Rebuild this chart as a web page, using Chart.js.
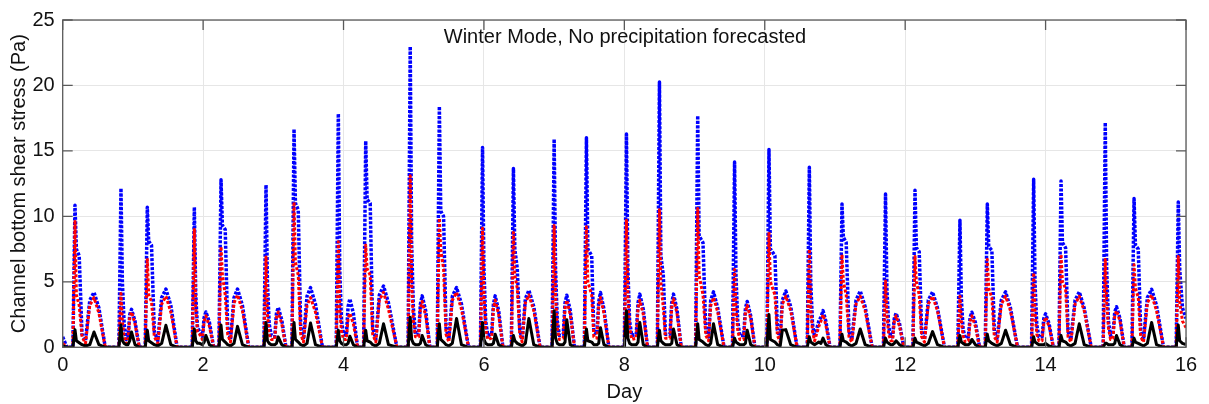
<!DOCTYPE html>
<html>
<head>
<meta charset="utf-8">
<script src="https://cdn.jsdelivr.net/npm/chart.js@4.4.1/dist/chart.umd.min.js"></script>
<style>
  html, body { margin: 0; padding: 0; background: #fff; }
  #stressChart { display: block; }
</style>
</head>
<body>
<canvas id="stressChart" width="1209" height="404"></canvas>
<script>
// time in days, one row per tidal cycle (spike, shoulder, hump)
const days = [
  0, 0.06,
  0.145, 0.175, 0.195, 0.235, 0.275, 0.325, 0.386, 0.446, 0.516, 0.606,
  0.80, 0.83, 0.85, 0.875, 0.905, 0.93, 0.955, 0.98, 1.03, 1.09,
  1.175, 1.205, 1.225, 1.265, 1.305, 1.355, 1.41, 1.47, 1.54, 1.63,
  1.845, 1.875, 1.895, 1.92, 1.95, 1.99, 2.015, 2.04, 2.09, 2.15,
  2.225, 2.255, 2.275, 2.315, 2.35, 2.39, 2.44, 2.49, 2.56, 2.65,
  2.866, 2.896, 2.916, 2.941, 2.971, 3.02, 3.045, 3.07, 3.12, 3.18,
  3.265, 3.295, 3.315, 3.355, 3.39, 3.43, 3.48, 3.53, 3.6, 3.7,
  3.896, 3.926, 3.946, 3.971, 4.001, 4.04, 4.065, 4.09, 4.14, 4.2,
  4.286, 4.316, 4.336, 4.38, 4.415, 4.46, 4.51, 4.57, 4.64, 4.76,
  4.92, 4.95, 4.97, 4.995, 5.025, 5.07, 5.095, 5.12, 5.17, 5.23,
  5.335, 5.365, 5.385, 5.425, 5.46, 5.5, 5.55, 5.61, 5.68, 5.78,
  5.95, 5.98, 6.0, 6.025, 6.055, 6.11, 6.135, 6.16, 6.21, 6.27,
  6.39, 6.42, 6.44, 6.475, 6.51, 6.545, 6.59, 6.64, 6.71, 6.8,
  6.97, 7.0, 7.02, 7.045, 7.075, 7.13, 7.155, 7.18, 7.23, 7.29,
  7.43, 7.46, 7.48, 7.535, 7.565, 7.61, 7.635, 7.66, 7.71, 7.78,
  8.0, 8.03, 8.05, 8.075, 8.105, 8.17, 8.195, 8.22, 8.27, 8.33,
  8.47, 8.5, 8.52, 8.555, 8.585, 8.65, 8.675, 8.7, 8.75, 8.81,
  9.015, 9.045, 9.065, 9.12, 9.16, 9.2, 9.23, 9.27, 9.33, 9.42,
  9.54, 9.57, 9.59, 9.615, 9.645, 9.7, 9.725, 9.75, 9.8, 9.86,
  10.03, 10.06, 10.08, 10.145, 10.18, 10.22, 10.25, 10.3, 10.37, 10.46,
  10.605, 10.635, 10.655, 10.68, 10.71, 10.77, 10.8, 10.83, 10.87, 10.93,
  11.07, 11.1, 11.12, 11.16, 11.2, 11.24, 11.3, 11.36, 11.43, 11.53,
  11.69, 11.72, 11.74, 11.765, 11.795, 11.82, 11.845, 11.87, 11.92, 11.98,
  12.11, 12.14, 12.16, 12.2, 12.235, 12.275, 12.33, 12.39, 12.46, 12.56,
  12.75, 12.78, 12.8, 12.825, 12.855, 12.9, 12.925, 12.95, 13.0, 13.06,
  13.14, 13.17, 13.19, 13.235, 13.27, 13.31, 13.37, 13.43, 13.5, 13.6,
  13.8, 13.83, 13.85, 13.875, 13.905, 13.95, 13.975, 14.0, 14.05, 14.11,
  14.19, 14.22, 14.24, 14.285, 14.32, 14.36, 14.42, 14.48, 14.55, 14.65,
  14.82, 14.85, 14.87, 14.895, 14.925, 14.96, 14.985, 15.01, 15.06, 15.12,
  15.23, 15.26, 15.28, 15.32, 15.355, 15.395, 15.45, 15.51, 15.58, 15.68,
  15.86, 15.89, 15.91, 15.95, 16.0
];

const blueStress = [
  0.8, 0,
  0, 10.85, 7.5, 7.0, 1.0, 0.5, 3.6, 4.2, 3.0, 0,
  0, 12.15, 5.0, 1.8, 0.6, 0.7, 2.5, 2.9, 2.0, 0,
  0, 10.7, 8.1, 7.8, 1.2, 0.5, 3.8, 4.45, 3.2, 0,
  0, 10.7, 4.0, 1.5, 1.2, 0.8, 2.3, 2.7, 1.9, 0,
  0, 12.8, 9.3, 9.0, 1.5, 0.6, 3.8, 4.45, 3.2, 0,
  0, 12.4, 5.0, 1.8, 0.9, 0.8, 2.6, 3.05, 2.1, 0,
  0, 16.66, 11.0, 10.5, 1.5, 0.6, 3.9, 4.56, 3.3, 0,
  0, 17.84, 6.0, 2.0, 1.0, 0.9, 3.1, 3.7, 2.6, 0,
  0, 15.76, 11.3, 11.0, 1.5, 0.6, 4.0, 4.68, 3.4, 0,
  0, 22.98, 8.0, 3.0, 1.0, 1.0, 3.3, 3.93, 2.8, 0,
  0, 18.4, 10.4, 10.0, 1.5, 0.6, 3.9, 4.56, 3.3, 0,
  0, 15.26, 6.0, 2.0, 0.9, 1.0, 3.3, 3.93, 2.8, 0,
  0, 13.65, 7.5, 6.0, 1.3, 0.6, 3.7, 4.36, 3.1, 0,
  0, 15.9, 6.0, 2.0, 0.9, 1.0, 3.4, 3.98, 2.8, 0,
  0, 16.0, 7.5, 7.0, 1.2, 1.0, 3.5, 4.18, 2.9, 0,
  0, 16.3, 6.0, 2.0, 0.9, 1.0, 3.4, 4.06, 2.9, 0,
  0, 20.27, 7.0, 5.5, 1.0, 1.0, 3.4, 4.06, 2.9, 0,
  0, 17.7, 8.5, 8.0, 1.3, 0.8, 3.6, 4.23, 3.0, 0,
  0, 14.16, 5.5, 2.0, 0.9, 0.9, 3.0, 3.5, 2.4, 0,
  0, 15.1, 7.5, 7.0, 1.3, 0.7, 3.6, 4.3, 3.1, 0,
  0, 13.76, 5.0, 1.8, 0.8, 2.0, 2.3, 2.8, 2.0, 0,
  0, 10.95, 8.4, 8.0, 1.2, 0.6, 3.6, 4.3, 3.1, 0,
  0, 11.7, 4.5, 1.6, 0.8, 0.8, 2.2, 2.6, 1.8, 0,
  0, 12.0, 7.6, 7.3, 1.2, 0.6, 3.6, 4.23, 3.0, 0,
  0, 9.7, 3.8, 1.4, 0.7, 0.8, 2.3, 2.68, 1.9, 0,
  0, 10.95, 7.7, 7.4, 1.2, 0.6, 3.6, 4.23, 3.0, 0,
  0, 12.83, 4.8, 1.7, 0.8, 0.8, 2.2, 2.55, 1.8, 0,
  0, 12.7, 8.0, 7.6, 1.2, 0.6, 3.6, 4.23, 3.0, 0,
  0, 17.17, 6.0, 2.0, 0.9, 1.0, 2.7, 3.1, 2.2, 0,
  0, 11.37, 7.8, 7.5, 1.2, 0.6, 3.8, 4.43, 3.2, 0,
  0, 11.1, 6.0, 3.0, 2.2
];

const redStress = [
  0.3, 0,
  0, 9.6, 4.0, 3.2, 0.8, 0.3, 3.2, 3.8, 2.6, 0,
  0, 4.1, 2.0, 0.8, 0.3, 0.5, 2.3, 2.7, 1.8, 0,
  0, 6.8, 4.0, 3.5, 0.8, 0.3, 3.3, 3.9, 2.7, 0,
  0, 9.0, 3.0, 1.2, 1.0, 0.6, 2.0, 2.4, 1.6, 0,
  0, 7.7, 5.5, 4.0, 1.0, 0.4, 3.4, 4.0, 2.8, 0,
  0, 6.9, 2.5, 1.0, 0.6, 0.6, 2.3, 2.7, 1.8, 0,
  0, 11.1, 6.5, 5.5, 1.0, 0.4, 3.2, 3.8, 2.7, 0,
  0, 8.07, 3.0, 1.2, 0.6, 0.6, 2.2, 2.6, 1.8, 0,
  0, 7.8, 6.0, 5.5, 1.0, 0.4, 3.6, 4.2, 2.9, 0,
  0, 13.1, 5.0, 2.0, 0.8, 0.8, 3.0, 3.5, 2.4, 0,
  0, 9.87, 7.5, 6.0, 1.0, 0.4, 3.6, 4.2, 2.9, 0,
  0, 9.1, 4.0, 1.5, 0.6, 0.7, 3.0, 3.6, 2.5, 0,
  0, 8.77, 5.5, 4.5, 1.0, 0.4, 3.4, 4.0, 2.8, 0,
  0, 9.3, 4.0, 1.5, 0.6, 0.7, 3.0, 3.6, 2.5, 0,
  0, 9.2, 5.0, 4.0, 0.8, 0.7, 3.2, 3.8, 2.6, 0,
  0, 9.7, 4.0, 1.5, 0.6, 0.7, 3.0, 3.6, 2.5, 0,
  0, 10.5, 5.0, 3.0, 0.7, 0.7, 3.1, 3.7, 2.6, 0,
  0, 10.6, 5.5, 4.0, 0.9, 0.5, 3.2, 3.8, 2.7, 0,
  0, 5.94, 3.0, 1.3, 0.6, 0.6, 2.7, 3.2, 2.2, 0,
  0, 8.8, 5.0, 4.0, 0.9, 0.4, 3.3, 3.9, 2.8, 0,
  0, 7.5, 3.0, 1.2, 0.5, 1.6, 2.0, 2.5, 1.7, 0,
  0, 7.1, 5.0, 4.0, 0.8, 0.4, 3.3, 3.9, 2.8, 0,
  0, 5.06, 2.5, 1.0, 0.5, 0.5, 2.0, 2.4, 1.6, 0,
  0, 6.94, 5.0, 4.0, 0.8, 0.4, 3.3, 3.9, 2.8, 0,
  0, 3.9, 2.0, 0.9, 0.4, 0.5, 2.0, 2.4, 1.6, 0,
  0, 6.7, 4.5, 3.8, 0.8, 0.4, 3.3, 3.9, 2.8, 0,
  0, 5.7, 2.6, 1.0, 0.5, 0.5, 1.9, 2.3, 1.6, 0,
  0, 7.1, 5.0, 4.5, 0.8, 0.4, 3.3, 3.9, 2.8, 0,
  0, 6.7, 3.5, 1.5, 0.6, 0.7, 2.4, 2.8, 2.0, 0,
  0, 6.3, 4.5, 3.8, 0.8, 0.4, 3.4, 4.0, 2.8, 0,
  0, 6.94, 3.5, 2.0, 1.5
];

const blackStress = [
  0.1, 0,
  0, 1.35, 0.5, 0.35, 0.2, 0.1, 0.2, 1.17, 0.2, 0,
  0, 1.7, 0.5, 0.3, 0.2, 0.2, 0.5, 1.17, 0.2, 0,
  0, 1.3, 0.5, 0.35, 0.2, 0.1, 0.3, 1.68, 0.2, 0,
  0, 1.4, 0.5, 0.3, 0.3, 0.2, 0.4, 0.9, 0.2, 0,
  0, 1.7, 0.6, 0.4, 0.2, 0.1, 0.3, 1.6, 0.2, 0,
  0, 1.9, 0.5, 0.3, 0.2, 0.2, 0.3, 0.8, 0.2, 0,
  0, 1.9, 0.6, 0.4, 0.2, 0.1, 0.3, 1.85, 0.2, 0,
  0, 1.3, 0.5, 0.3, 0.2, 0.2, 0.3, 0.85, 0.2, 0,
  0, 1.3, 0.5, 0.4, 0.2, 0.1, 0.3, 1.8, 0.2, 0,
  0, 2.3, 0.6, 0.3, 0.2, 0.2, 0.3, 0.9, 0.2, 0,
  0, 1.8, 0.6, 0.4, 0.2, 0.1, 0.3, 2.2, 0.2, 0,
  0, 1.9, 0.6, 0.3, 0.2, 0.2, 0.3, 1.0, 0.2, 0,
  0, 0.9, 0.5, 0.3, 0.2, 0.1, 0.3, 2.2, 0.2, 0,
  0, 2.8, 0.7, 0.3, 0.2, 0.2, 0.4, 2.1, 0.2, 0,
  0, 1.4, 0.5, 0.4, 0.2, 0.2, 0.3, 1.5, 0.2, 0,
  0, 2.8, 0.7, 0.3, 0.2, 0.2, 0.4, 1.9, 0.2, 0,
  0, 1.3, 0.5, 0.3, 0.2, 0.2, 0.3, 1.4, 0.2, 0,
  0, 1.8, 0.6, 0.4, 0.2, 0.1, 0.3, 1.8, 0.2, 0,
  0, 0.7, 0.4, 0.3, 0.2, 0.2, 0.3, 1.3, 0.2, 0,
  0, 2.5, 0.6, 0.4, 0.2, 0.1, 1.3, 1.35, 0.2, 0,
  0, 0.8, 0.4, 0.3, 0.2, 0.4, 0.3, 0.7, 0.2, 0,
  0, 1.0, 0.5, 0.4, 0.2, 0.1, 0.3, 1.4, 0.2, 0,
  0, 0.7, 0.4, 0.3, 0.2, 0.2, 0.3, 0.5, 0.2, 0,
  0, 0.7, 0.4, 0.3, 0.2, 0.1, 0.3, 1.2, 0.2, 0,
  0, 0.9, 0.4, 0.3, 0.2, 0.2, 0.3, 0.6, 0.2, 0,
  0, 1.0, 0.5, 0.3, 0.2, 0.1, 0.3, 1.3, 0.2, 0,
  0, 0.8, 0.4, 0.3, 0.2, 0.2, 0.2, 0.3, 0.1, 0,
  0, 0.9, 0.5, 0.4, 0.2, 0.1, 0.3, 1.8, 0.2, 0,
  0, 0.3, 0.3, 0.2, 0.2, 0.2, 0.3, 0.9, 0.2, 0,
  0, 0.7, 0.4, 0.3, 0.2, 0.1, 0.3, 1.9, 0.2, 0,
  0, 1.7, 0.5, 0.3, 0.2
];

const dayTicks = [0, 2, 4, 6, 8, 10, 12, 14, 16];
const stressTicks = [0, 5, 10, 15, 20, 25];
const plotTitle = 'Winter Mode, No precipitation forecasted';

const FONT = "'Liberation Sans', Arial, Helvetica, sans-serif";

function toPoints(values) {
  return values.map((v, i) => ({ x: days[i], y: v }));
}

// matlab style box, inward ticks and the in-axes title
const boxPlugin = {
  id: 'matlabBox',
  afterDatasetsDraw(chart) {
    const { ctx, chartArea: a, scales } = chart;
    ctx.save();
    ctx.strokeStyle = '#5a5a5a';
    ctx.lineWidth = 1.3;
    ctx.strokeRect(a.left, a.top, a.right - a.left, a.bottom - a.top);
    ctx.beginPath();
    dayTicks.forEach((d) => {
      const x = scales.x.getPixelForValue(d);
      ctx.moveTo(x, a.bottom); ctx.lineTo(x, a.bottom - 10);
      ctx.moveTo(x, a.top); ctx.lineTo(x, a.top + 10);
    });
    stressTicks.forEach((s) => {
      const y = scales.y.getPixelForValue(s);
      ctx.moveTo(a.left, y); ctx.lineTo(a.left + 10, y);
      ctx.moveTo(a.right, y); ctx.lineTo(a.right - 10, y);
    });
    ctx.stroke();
    ctx.fillStyle = '#111';
    ctx.font = '20px ' + FONT;
    ctx.textAlign = 'center';
    ctx.textBaseline = 'middle';
    ctx.fillText(plotTitle, 625, 37);
    ctx.restore();
  }
};

new Chart(document.getElementById('stressChart'), {
  type: 'line',
  data: {
    datasets: [
      {
        label: 'Black',
        data: toPoints(blackStress),
        borderColor: '#000000',
        borderWidth: 3,
        borderJoinStyle: 'round',
        pointRadius: 0,
        order: 1,
      },
      {
        label: 'Red',
        data: toPoints(redStress),
        borderColor: '#ff0000',
        borderWidth: 3,
        borderDash: [3, 2],
        borderJoinStyle: 'round',
        pointRadius: 0,
        order: 2,
      },
      {
        label: 'Blue',
        data: toPoints(blueStress),
        borderColor: '#0000ff',
        borderWidth: 3.5,
        borderDash: [3, 1.5],
        borderJoinStyle: 'round',
        pointRadius: 0,
        order: 3,
      },
    ],
  },
  options: {
    responsive: false,
    animation: false,
    devicePixelRatio: 1,
    layout: { padding: { top: 15, right: 23, left: 0, bottom: 0 } },
    plugins: {
      legend: { display: false },
      tooltip: { enabled: false },
    },
    scales: {
      x: {
        type: 'linear',
        min: 0,
        max: 16,
        afterBuildTicks: (scale) => { scale.ticks = dayTicks.map((v) => ({ value: v })); },
        afterFit: (scale) => { scale.height = 56.7; },
        grid: { color: '#e6e6e6', drawTicks: false },
        border: { display: false },
        ticks: { color: '#111', padding: 6, font: { size: 20, family: FONT } },
        title: {
          display: true,
          text: 'Day',
          color: '#111',
          padding: { top: 0, bottom: 0 },
          font: { size: 20, family: FONT },
        },
      },
      y: {
        min: 0,
        max: 25,
        afterBuildTicks: (scale) => { scale.ticks = stressTicks.map((v) => ({ value: v })); },
        afterFit: (scale) => { scale.width = 62.7; },
        grid: { color: '#e6e6e6', drawTicks: false },
        border: { display: false },
        ticks: { color: '#111', padding: 8, font: { size: 20, family: FONT } },
        title: {
          display: true,
          text: 'Channel bottom shear stress (Pa)',
          color: '#111',
          padding: { top: 7, bottom: 0 },
          font: { size: 20, family: FONT },
        },
      },
    },
  },
  plugins: [boxPlugin],
});
</script>
</body>
</html>
